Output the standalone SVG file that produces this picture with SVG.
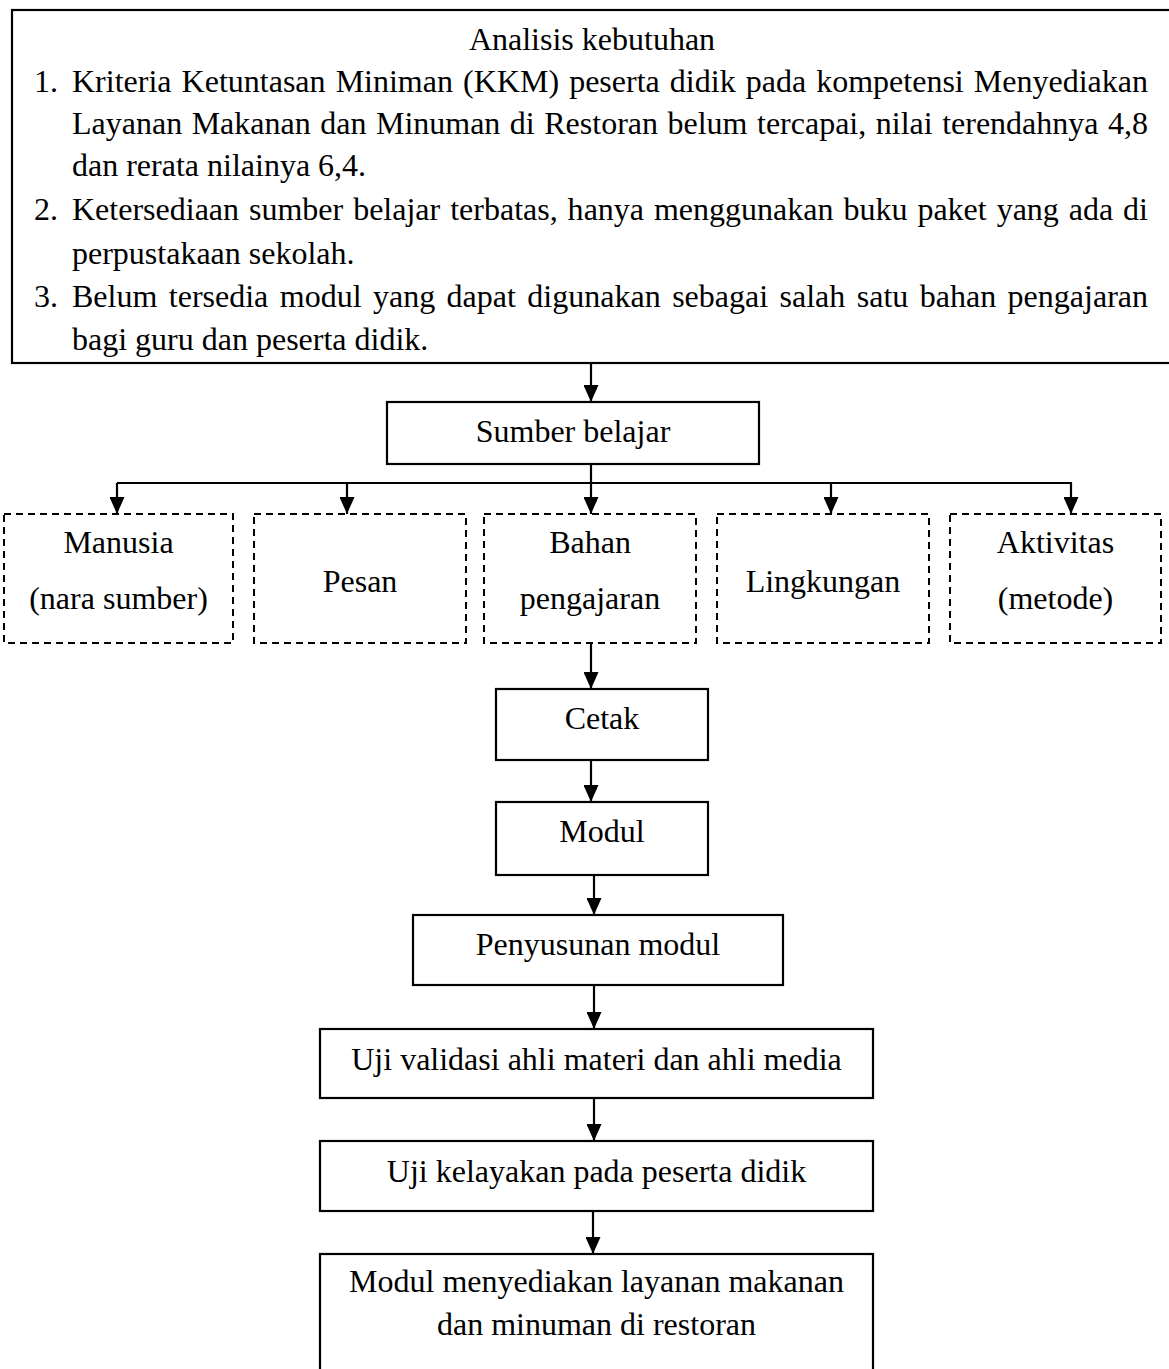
<svg xmlns="http://www.w3.org/2000/svg" width="1169" height="1369" viewBox="0 0 1169 1369">
<style>
text{font-family:"Liberation Serif","Times New Roman",serif;font-size:32px;fill:#000}
.c{text-anchor:middle}
.box{fill:#fff;stroke:#000;stroke-width:2.2}
.dash{fill:#fff;stroke:#000;stroke-width:2;stroke-dasharray:7 5}
.ln{fill:none;stroke:#000;stroke-width:2.2}
.ar{fill:none;stroke:#000;stroke-width:2.2;marker-end:url(#ah)}
</style>
<defs>
<marker id="ah" viewBox="0 0 17 15" refX="17" refY="7.5" markerWidth="17" markerHeight="15" markerUnits="userSpaceOnUse" orient="auto">
<path d="M0,0 L17,7.5 L0,15 z" fill="#000"/>
</marker>
</defs>
<rect width="1169" height="1369" fill="#fff"/>

<g id="analisis">
<rect class="box" x="12" y="10" width="1180" height="353"/>
<text class="c" x="592" y="50">Analisis kebutuhan</text>
<text x="34" y="92">1.</text>
<text x="72" y="92" word-spacing="2.1" textLength="1076" lengthAdjust="spacing">Kriteria Ketuntasan Miniman (KKM) peserta didik pada kompetensi Menyediakan</text>
<text x="72" y="134" word-spacing="1.5" textLength="1076" lengthAdjust="spacing">Layanan Makanan dan Minuman di Restoran belum tercapai, nilai terendahnya 4,8</text>
<text x="72" y="176">dan rerata nilainya 6,4.</text>
<text x="34" y="220">2.</text>
<text x="72" y="220" word-spacing="1.9" textLength="1076" lengthAdjust="spacing">Ketersediaan sumber belajar terbatas, hanya menggunakan buku paket yang ada di</text>
<text x="72" y="264">perpustakaan sekolah.</text>
<text x="34" y="307">3.</text>
<text x="72" y="307" word-spacing="3.4" textLength="1076" lengthAdjust="spacing">Belum tersedia modul yang dapat digunakan sebagai salah satu bahan pengajaran</text>
<text x="72" y="350">bagi guru dan peserta didik.</text>
</g>

<g id="sumber">
<rect class="box" x="387" y="402" width="372" height="62"/>
<text class="c" x="573" y="442">Sumber belajar</text>
</g>

<g id="manusia">
<rect class="dash" x="4" y="514" width="229" height="129"/>
<text class="c" x="118.5" y="553">Manusia</text>
<text class="c" x="118.5" y="609">(nara sumber)</text>
</g>
<g id="pesan">
<rect class="dash" x="254" y="514" width="212" height="129"/>
<text class="c" x="360" y="592">Pesan</text>
</g>
<g id="bahan">
<rect class="dash" x="484" y="514" width="212" height="129"/>
<text class="c" x="590" y="553">Bahan</text>
<text class="c" x="590" y="609">pengajaran</text>
</g>
<g id="lingkungan">
<rect class="dash" x="717" y="514" width="212" height="129"/>
<text class="c" x="823" y="592">Lingkungan</text>
</g>
<g id="aktivitas">
<rect class="dash" x="950" y="514" width="211" height="129"/>
<text class="c" x="1055.5" y="553">Aktivitas</text>
<text class="c" x="1055.5" y="609">(metode)</text>
</g>

<g id="cetak">
<rect class="box" x="496" y="689" width="212" height="71"/>
<text class="c" x="602" y="729">Cetak</text>
</g>
<g id="modul">
<rect class="box" x="496" y="802" width="212" height="73"/>
<text class="c" x="602" y="842">Modul</text>
</g>
<g id="penyusunan">
<rect class="box" x="413" y="915" width="370" height="70"/>
<text class="c" x="598" y="955">Penyusunan modul</text>
</g>
<g id="validasi">
<rect class="box" x="320" y="1029" width="553" height="69"/>
<text class="c" x="596.5" y="1070">Uji validasi ahli materi dan ahli media</text>
</g>
<g id="kelayakan">
<rect class="box" x="320" y="1141" width="553" height="70"/>
<text class="c" x="596.5" y="1182">Uji kelayakan pada peserta didik</text>
</g>
<g id="hasil">
<rect class="box" x="320" y="1254" width="553" height="140"/>
<text class="c" x="596.5" y="1292">Modul menyediakan layanan makanan</text>
<text class="c" x="596.5" y="1335">dan minuman di restoran</text>
</g>

<g id="connectors">
<line class="ar" x1="591" y1="363" x2="591" y2="402"/>
<line class="ar" x1="591" y1="464" x2="591" y2="514"/>
<line class="ln" x1="117" y1="483" x2="1071" y2="483"/>
<line class="ar" x1="117" y1="483" x2="117" y2="514"/>
<line class="ar" x1="347" y1="483" x2="347" y2="514"/>
<line class="ar" x1="831" y1="483" x2="831" y2="514"/>
<line class="ar" x1="1071" y1="482" x2="1071" y2="514"/>
<line class="ar" x1="591" y1="643" x2="591" y2="689"/>
<line class="ar" x1="591" y1="760" x2="591" y2="802"/>
<line class="ar" x1="594" y1="875" x2="594" y2="915"/>
<line class="ar" x1="594" y1="985" x2="594" y2="1029"/>
<line class="ar" x1="594" y1="1098" x2="594" y2="1141"/>
<line class="ar" x1="593" y1="1211" x2="593" y2="1254"/>
</g>
</svg>
